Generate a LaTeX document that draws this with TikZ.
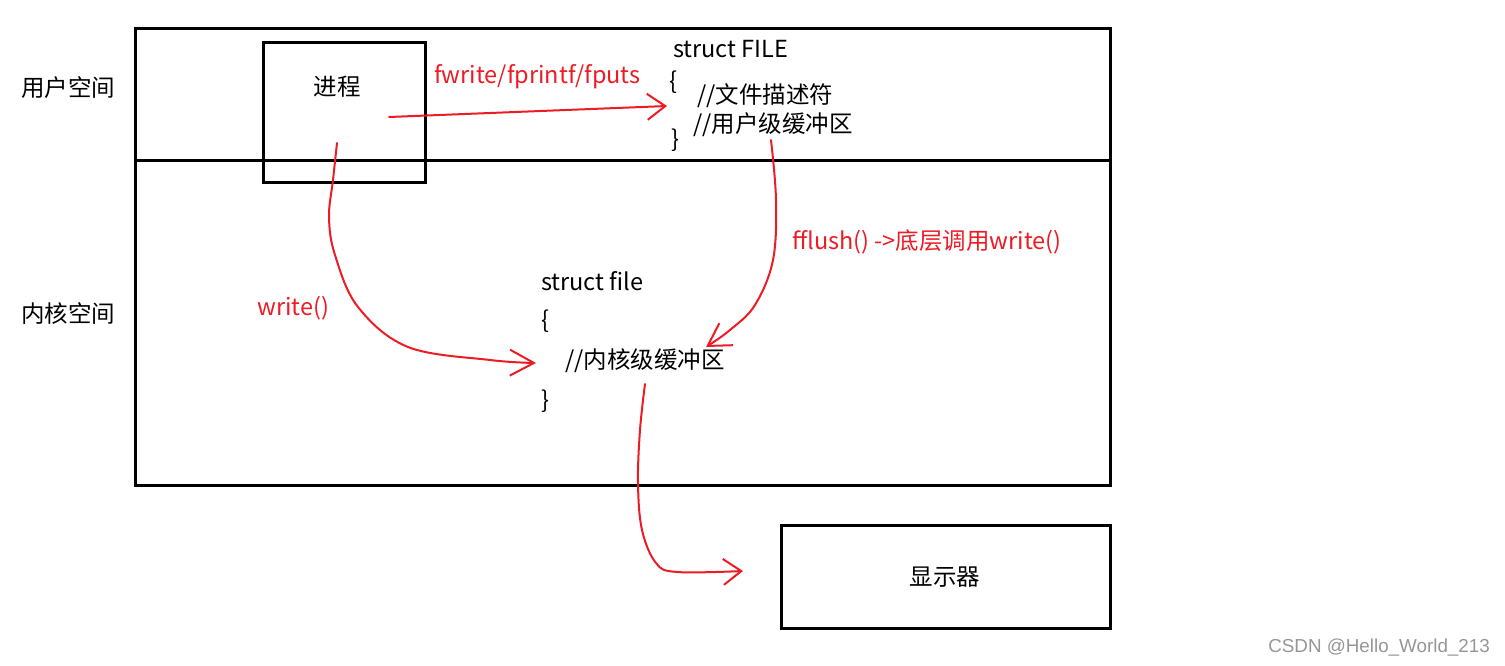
\documentclass[tikz,border=0pt]{standalone}
\usepackage{fontspec}
\setmainfont{Noto Sans CJK SC}
\newfontfamily\wmfont{Liberation Sans}
\usetikzlibrary{arrows.meta}
\definecolor{penred}{RGB}{237,28,36}
\definecolor{wmgray}{RGB}{150,150,150}
\begin{document}
\begin{tikzpicture}[x=1pt,y=-1pt,
  box/.style={draw=black, line width=3pt, inner sep=0pt, anchor=north west},
  txt/.style={font=\fontsize{23.5}{28}\selectfont, inner sep=0pt, text=black},
  rtxt/.style={txt, text=penred},
  pen/.style={draw=penred, line width=2pt, line cap=round, line join=round},
  barb/.style={-{Straight Barb[length=#1, width=26pt, line width=2pt]}},
  barb/.default=18pt
]
\path[use as bounding box] (0,0) rectangle (1505,666);

% boxes
\node[box, minimum width=975pt, minimum height=457pt] (main) at (134,27) {};
\coordinate (divL) at (134,161);
\coordinate (divR) at (1109,161);
\draw[line width=3pt] (divL) -- (divR);
\node[box, minimum width=162pt, minimum height=140pt] (proc) at (262,41) {};
\node[box, minimum width=329pt, minimum height=103pt] (disp) at (780,524) {};

% labels
\node[txt] (user) at (68,88) {用户空间};
\node[txt] (kern) at (68,314) {内核空间};
\node[txt] (proclbl) at (337,87) {进程};
\node[txt] (dispLbl) at (945,577) {显示器};

\node[txt, anchor=west] (sFILE) at (673,49) {struct FILE};
\node[txt, anchor=west] (lb1) at (669,82) {\{};
\node[txt, anchor=west] (fd) at (697,96) {//文件描述符};
\node[txt, anchor=west] (ubuf) at (693,125) {//用户级缓冲区};
\node[txt, anchor=west] (rb1) at (671,140) {\}};

\node[txt, anchor=west] (sfile) at (541,281) {struct file};
\node[txt, anchor=west] (lb2) at (541,321) {\{};
\node[txt, anchor=west] (kbuf) at (565,361) {//内核级缓冲区};
\node[txt, anchor=west] (rb2) at (541,401) {\}};

\node[rtxt, anchor=west] (fw) at (434,77) {fwrite/fprintf/fputs};
\node[rtxt, anchor=west] (wr) at (257,308) {write()};
\node[rtxt, anchor=west] (ff) at (792,242) {fflush() ->底层调用write()};

\node[font=\wmfont\fontsize{18.8}{21}\selectfont, text=wmgray, inner sep=0pt, anchor=east] (wm) at (1490,648) {CSDN @Hello\_World\_213};

% connector points
\coordinate (a1s) at (389,117);
\coordinate (a1e) at (667,106);
\coordinate (a2s) at (337,143);
\coordinate (a2e) at (536,363);
\coordinate (a3s) at (771,140);
\coordinate (a3e) at (706,347);
\coordinate (a4s) at (645,384);
\coordinate (a4e) at (743,571);

% arrows
\draw[pen, barb] (a1s) -- (a1e);
\draw[pen, barb=24pt] plot[smooth, tension=0.6] coordinates {(a2s) (333,180) (329,217) (335,255) (358,307) (408,347) (490,360) (a2e)};
\draw[pen, barb=22pt] plot[smooth, tension=0.6] coordinates {(a3s) (776,200) (773,260) (755,305) (730,330) (a3e)};
\draw[pen, barb] plot[smooth, tension=0.6] coordinates {(a4s) (640,430) (638,483) (642,530) (656,563) (677,572) (a4e)};
\end{tikzpicture}
\end{document}
